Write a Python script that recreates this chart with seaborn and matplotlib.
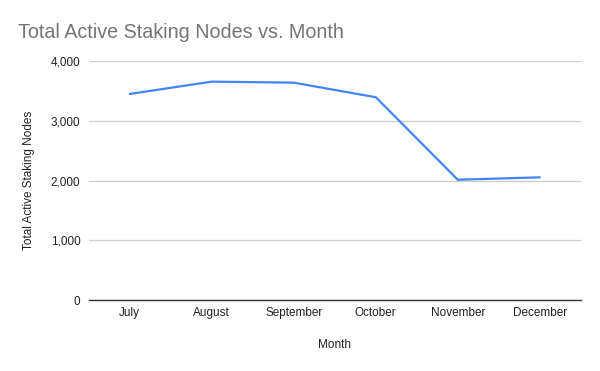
import matplotlib
matplotlib.use("Agg")
import matplotlib.pyplot as plt
import seaborn as sns
import pandas as pd

months = ["July", "August", "September", "October", "November", "December"]
nodes = [3452, 3658, 3641, 3397, 2016, 2056]
y_ticks = [0, 1000, 2000, 3000, 4000]

df = pd.DataFrame({"Month": months, "Total Active Staking Nodes": nodes})

sns.set_style("white")
plt.rcParams["font.family"] = ["Liberation Sans", "DejaVu Sans"]

fig = plt.figure(figsize=(6, 3.71), dpi=100)
ax = fig.add_axes([0.148, 0.191, 0.82, 0.644])

sns.lineplot(data=df, x="Month", y="Total Active Staking Nodes", sort=False,
             color="#4285F4", linewidth=1.6, ax=ax)

ax.set_xlim(-0.5, len(months) - 0.5)
ax.set_ylim(0, 4000)
ax.set_yticks(y_ticks)
ax.set_yticklabels([f"{v:,}" for v in y_ticks])
ax.yaxis.grid(True, color="#cccccc", linewidth=0.9)
ax.xaxis.grid(False)
ax.set_axisbelow(True)

for s in ["top", "right", "left"]:
    ax.spines[s].set_visible(False)
ax.spines["bottom"].set_color("#333333")
ax.spines["bottom"].set_linewidth(1)
ax.spines["bottom"].set_zorder(3)

ax.tick_params(axis="both", length=0, labelsize=8.5, labelcolor="#222222")
ax.tick_params(axis="x", pad=5)
ax.tick_params(axis="y", pad=6)

ax.set_xlabel("Month", fontsize=8.5, color="#222222", labelpad=14)
ax.set_ylabel("Total Active Staking Nodes", fontsize=8.5, color="#222222", labelpad=11)

fig.text(0.03, 0.912, "Total Active Staking Nodes vs. Month", fontsize=14.2,
         color="#757575", va="center", ha="left")

fig.savefig("out.png", dpi=100)
